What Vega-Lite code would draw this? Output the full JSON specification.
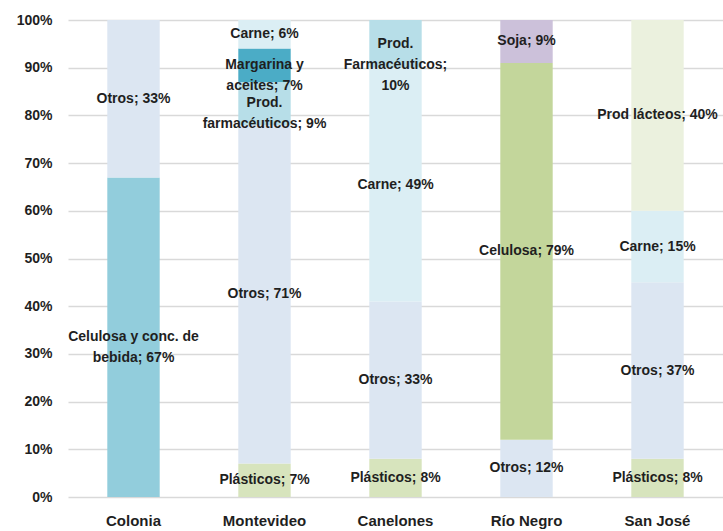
{
  "$schema": "https://vega.github.io/schema/vega-lite/v6.json",
  "width": 655,
  "height": 477,
  "autosize": {"type": "none"},
  "padding": {"left": 68, "top": 20, "right": 0, "bottom": 34},
  "background": "white",
  "config": {
    "view": {"stroke": null},
    "font": "Liberation Sans Narrow, Liberation Sans, sans-serif"
  },
  "data": {
    "values": [
      {"depto": "Colonia", "producto": "Celulosa y conc. de bebida", "valor": 67, "orden": 1, "etiqueta": "Celulosa y conc. de\nbebida; 67%"},
      {"depto": "Colonia", "producto": "Otros", "valor": 33, "orden": 2, "etiqueta": "Otros; 33%"},
      {"depto": "Montevideo", "producto": "Plásticos", "valor": 7, "orden": 1, "etiqueta": "Plásticos; 7%"},
      {"depto": "Montevideo", "producto": "Otros", "valor": 71, "orden": 2, "etiqueta": "Otros; 71%"},
      {"depto": "Montevideo", "producto": "Prod. farmacéuticos", "valor": 9, "orden": 3, "etiqueta": "Prod.\nfarmacéuticos; 9%"},
      {"depto": "Montevideo", "producto": "Margarina y aceites", "valor": 7, "orden": 4, "etiqueta": "Margarina y\naceites; 7%"},
      {"depto": "Montevideo", "producto": "Carne", "valor": 6, "orden": 5, "etiqueta": "Carne; 6%"},
      {"depto": "Canelones", "producto": "Plásticos", "valor": 8, "orden": 1, "etiqueta": "Plásticos; 8%"},
      {"depto": "Canelones", "producto": "Otros", "valor": 33, "orden": 2, "etiqueta": "Otros; 33%"},
      {"depto": "Canelones", "producto": "Carne", "valor": 49, "orden": 3, "etiqueta": "Carne; 49%"},
      {"depto": "Canelones", "producto": "Prod. farmacéuticos", "valor": 10, "orden": 4, "etiqueta": "Prod.\nFarmacéuticos;\n10%"},
      {"depto": "Río Negro", "producto": "Otros", "valor": 12, "orden": 1, "etiqueta": "Otros; 12%"},
      {"depto": "Río Negro", "producto": "Celulosa", "valor": 79, "orden": 2, "etiqueta": "Celulosa; 79%"},
      {"depto": "Río Negro", "producto": "Soja", "valor": 9, "orden": 3, "etiqueta": "Soja; 9%"},
      {"depto": "San José", "producto": "Plásticos", "valor": 8, "orden": 1, "etiqueta": "Plásticos; 8%"},
      {"depto": "San José", "producto": "Otros", "valor": 37, "orden": 2, "etiqueta": "Otros; 37%"},
      {"depto": "San José", "producto": "Carne", "valor": 15, "orden": 3, "etiqueta": "Carne; 15%"},
      {"depto": "San José", "producto": "Prod lácteos", "valor": 40, "orden": 4, "etiqueta": "Prod lácteos; 40%"}
    ]
  },
  "transform": [
    {"stack": "valor", "groupby": ["depto"], "sort": [{"field": "orden", "order": "ascending"}], "as": ["y0", "y1"]},
    {"calculate": "(datum.y0 + datum.y1) / 2", "as": "ymid"}
  ],
  "encoding": {
    "x": {
      "field": "depto",
      "type": "nominal",
      "sort": ["Colonia", "Montevideo", "Canelones", "Río Negro", "San José"],
      "scale": {"paddingInner": 0.6, "paddingOuter": 0.3},
      "axis": {
        "title": null,
        "domain": false,
        "ticks": false,
        "labelAngle": 0,
        "labelPadding": 16,
        "labelFontSize": 15,
        "labelFontWeight": "bold",
        "labelColor": "#1f1f1f"
      }
    }
  },
  "layer": [
    {
      "mark": {"type": "bar"},
      "encoding": {
        "y": {
          "field": "y0",
          "type": "quantitative",
          "scale": {"domain": [0, 100], "nice": false},
          "axis": {
            "title": null,
            "domain": false,
            "ticks": false,
            "values": [0, 10, 20, 30, 40, 50, 60, 70, 80, 90, 100],
            "labelExpr": "datum.value + '%'",
            "labelPadding": 16,
            "labelFontSize": 14,
            "labelFontWeight": "bold",
            "labelColor": "#1f1f1f",
            "gridColor": "#d9d9d9",
            "gridWidth": 1.5
          }
        },
        "y2": {"field": "y1"},
        "color": {
          "field": "producto",
          "type": "nominal",
          "legend": null,
          "scale": {
            "domain": ["Otros", "Celulosa y conc. de bebida", "Plásticos", "Prod. farmacéuticos", "Margarina y aceites", "Carne", "Celulosa", "Soja", "Prod lácteos"],
            "range": ["#dce6f2", "#92cddc", "#d7e4bd", "#b7dee8", "#4bacc6", "#dbeef4", "#c3d69b", "#ccc1da", "#ebf1de"]
          }
        }
      }
    },
    {
      "mark": {"type": "text", "lineBreak": "\n", "fontWeight": "bold", "fontSize": 14, "lineHeight": 21, "color": "#1f1f1f"},
      "encoding": {
        "y": {"field": "ymid", "type": "quantitative"},
        "text": {"field": "etiqueta"}
      }
    }
  ]
}
